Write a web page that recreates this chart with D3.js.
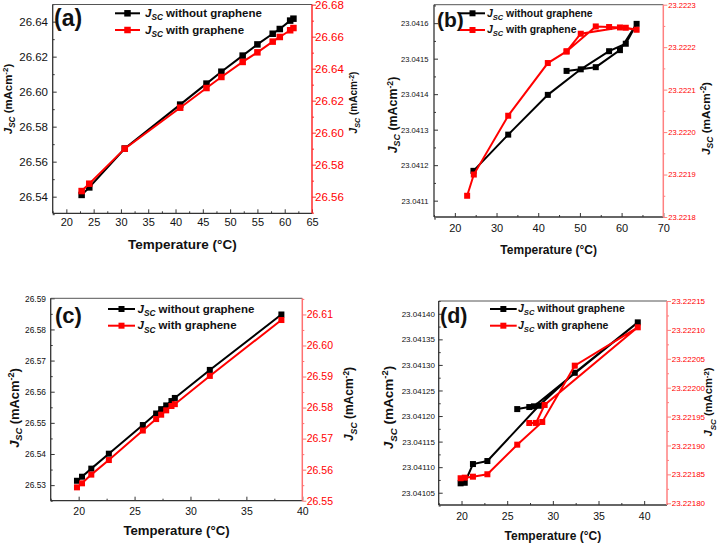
<!DOCTYPE html>
<html><head><meta charset="utf-8">
<script src="https://cdn.jsdelivr.net/npm/d3@7"></script>
<style>
body{margin:0;background:#fff}
svg{display:block}
text{font-family:Arial,"Liberation Sans",sans-serif}
</style>
</head><body>
<svg id="chart" width="717" height="543"></svg>
<script>
// ---------- DATA ----------
const seriesNames = ["without graphene", "with graphene"];

// Panel (a)
const tempA = [22.8, 24.2, 30.7, 40.85, 45.67, 48.4, 52.3, 55.0, 57.8, 59.1, 61.0, 61.6];
const jscNoGrA = [26.5410, 26.5453, 26.5675, 26.5926, 26.6046, 26.6114, 26.6206, 26.6270, 26.6331, 26.6358, 26.6406, 26.6417];
const jscGrA = [26.5635, 26.5681, 26.5900, 26.6156, 26.6279, 26.6348, 26.6442, 26.6502, 26.6569, 26.6598, 26.6640, 26.6654];

// Panel (b)
const tempNoGrB = [24.46, 32.8, 42.3, 50.2, 57.0, 61.0, 63.6, 59.6, 53.8, 46.8];
const jscNoGrB = [23.041184, 23.041286, 23.041398, 23.041470, 23.041521, 23.041542, 23.041598, 23.041524, 23.041476, 23.0414655];
const tempGrB = [22.95, 24.55, 32.8, 42.3, 46.8, 53.8, 57.0, 61.0, 63.6, 59.6, 50.2, 46.8];
const jscGrB = [23.22185, 23.2219, 23.2220385, 23.2221626, 23.22219, 23.2222488, 23.2222474, 23.2222457, 23.222241, 23.2222464, 23.2222316, 23.22219];

// Panel (c)
const tempC = [19.85, 20.3, 21.13, 22.7, 25.74, 26.93, 27.38, 27.83, 28.3, 28.6, 31.73, 38.13];
const jscNoGrC = [26.5314, 26.5327, 26.5353, 26.5401, 26.5493, 26.5530, 26.5544, 26.5556, 26.5570, 26.5580, 26.5670, 26.5848];
const jscGrC = [26.5543, 26.5556, 26.5584, 26.5631, 26.5726, 26.5763, 26.5777, 26.5791, 26.5805, 26.5811, 26.5902, 26.6082];

// Panel (d)
const tempNoGrD = [19.9, 20.35, 21.25, 22.83, 28.47, 32.4, 39.3, 27.93, 27.42, 26.1];
const jscNoGrD = [23.0410684, 23.0410695, 23.0411061, 23.041112, 23.0412201, 23.0412846, 23.0413832, 23.041219, 23.0412176, 23.0412136];
const tempGrD = [19.9, 20.35, 21.25, 22.83, 26.1, 28.84, 32.4, 39.3, 29.1, 28.15, 27.42];
const jscGrD = [23.2218433, 23.2218443, 23.221846, 23.2218502, 23.2219014, 23.2219407, 23.2220381, 23.2221045, 23.2219701, 23.221939, 23.2219389];

// Tick values
const xTicksA = [20, 25, 30, 35, 40, 45, 50, 55, 60, 65];
const xMinorA = [17.5, 22.5, 27.5, 32.5, 37.5, 42.5, 47.5, 52.5, 57.5, 62.5];
const yLTicksA = [26.54, 26.56, 26.58, 26.60, 26.62, 26.64];
const yLMinorA = [26.53, 26.55, 26.57, 26.59, 26.61, 26.63, 26.65];
const yRTicksA = [26.56, 26.58, 26.60, 26.62, 26.64, 26.66, 26.68];
const yRMinorA = [26.55, 26.57, 26.59, 26.61, 26.63, 26.65, 26.67];

const xTicksB = [20, 30, 40, 50, 60, 70];
const xMinorB = [15, 25, 35, 45, 55, 65];
const yLTicksB = [23.0411, 23.0412, 23.0413, 23.0414, 23.0415, 23.0416];
const yLMinorB = [23.04105, 23.04115, 23.04125, 23.04135, 23.04145, 23.04155, 23.04165];
const yRTicksB = [23.2218, 23.2219, 23.2220, 23.2221, 23.2222, 23.2223];
const yRMinorB = [23.22185, 23.22195, 23.22205, 23.22215, 23.22225];

const xTicksC = [20, 25, 30, 35, 40];
const xMinorC = [17.5, 22.5, 27.5, 32.5, 37.5];
const yLTicksC = [26.53, 26.54, 26.55, 26.56, 26.57, 26.58, 26.59];
const yLMinorC = [26.525, 26.535, 26.545, 26.555, 26.565, 26.575, 26.585];
const yRTicksC = [26.55, 26.56, 26.57, 26.58, 26.59, 26.60, 26.61];
const yRMinorC = [26.555, 26.565, 26.575, 26.585, 26.595, 26.605, 26.615];

const xTicksD = [20, 25, 30, 35, 40];
const xMinorD = [17.5, 22.5, 27.5, 32.5, 37.5, 42.5];
const yLTicksD = [23.04105, 23.04110, 23.04115, 23.04120, 23.04125, 23.04130, 23.04135, 23.04140];
const yLMinorD = [23.041025, 23.041075, 23.041125, 23.041175, 23.041225, 23.041275, 23.041325, 23.041375, 23.041425];
const yRTicksD = [23.22180, 23.22185, 23.22190, 23.22195, 23.22200, 23.22205, 23.22210, 23.22215];
const yRMinorD = [23.221825, 23.221875, 23.221925, 23.221975, 23.222025, 23.222075, 23.222125];

// ---------- DRAW ----------
const svg = d3.select("#chart");
const BLACK = "#000000", RED = "#ff0000";

function zip(xs, ys) { return xs.map((t, i) => [t, ys[i]]); }

function addJsc(sel, fs) {
  sel.append("tspan").attr("font-style", "italic").text("J");
  sel.append("tspan").attr("font-style", "italic").attr("font-size", (fs * 0.72) + "px")
     .attr("dy", fs * 0.28).text("SC");
  return fs * 0.28;
}

function panel(p) {
  const g = svg.append("g");
  const x = d3.scaleLinear().domain(p.xDom).range([p.l, p.r]);
  const yL = d3.scaleLinear().domain(p.yLDom).range([p.b, p.t]);
  const yR = d3.scaleLinear().domain(p.yRDom).range([p.b, p.t]);

  const bx = g.append("g").attr("transform", `translate(0,${p.b})`);
  bx.call(d3.axisBottom(x).tickValues(p.xTicks).tickSize(-4)
      .tickPadding(p.xLabBase - p.b - 0.71 * p.xFs).tickFormat(d3.format("d")));
  const bxm = g.append("g").attr("transform", `translate(0,${p.b})`);
  bxm.call(d3.axisBottom(x).tickValues(p.xMinor).tickSize(-2).tickFormat(""));

  const lx = g.append("g").attr("transform", `translate(${p.l},0)`);
  lx.call(d3.axisLeft(yL).tickValues(p.yLTicks).tickSize(-4)
      .tickPadding(p.l - p.yLLabX).tickFormat(d3.format(p.fmtL)));
  const lxm = g.append("g").attr("transform", `translate(${p.l},0)`);
  lxm.call(d3.axisLeft(yL).tickValues(p.yLMinor).tickSize(-2).tickFormat(""));

  const rx = g.append("g").attr("transform", `translate(${p.r},0)`);
  rx.call(d3.axisRight(yR).tickValues(p.yRTicks).tickSize(4)
      .tickPadding(p.yRLabX - p.r - 4).tickFormat(d3.format(p.fmtR)));
  const rxm = g.append("g").attr("transform", `translate(${p.r},0)`);
  rxm.call(d3.axisRight(yR).tickValues(p.yRMinor).tickSize(2).tickFormat(""));

  [bx, bxm, lx, lxm, rx, rxm].forEach(a => a.select(".domain").remove());
  [bx, bxm, lx, lxm].forEach(a => a.selectAll("line").attr("stroke", "#333").attr("stroke-width", 1));
  [rx, rxm].forEach(a => a.selectAll("line").attr("stroke", p.rAxisCol).attr("stroke-width", 1));
  bx.selectAll("text").attr("font-size", p.xFs + "px").attr("fill", "#111");
  lx.selectAll("text").attr("font-size", p.yLFs + "px").attr("fill", "#111");
  rx.selectAll("text").attr("font-size", p.yRFs + "px").attr("fill", RED);

  g.append("line").attr("x1", p.l).attr("x2", p.r).attr("y1", p.b).attr("y2", p.b)
    .attr("stroke", "#333").attr("stroke-width", 1.3);
  g.append("line").attr("x1", p.l).attr("x2", p.r).attr("y1", p.t).attr("y2", p.t)
    .attr("stroke", "#555").attr("stroke-width", 1);
  g.append("line").attr("x1", p.l).attr("x2", p.l).attr("y1", p.t).attr("y2", p.b)
    .attr("stroke", "#333").attr("stroke-width", 1.3);
  g.append("line").attr("x1", p.r).attr("x2", p.r).attr("y1", p.t).attr("y2", p.b)
    .attr("stroke", p.rAxisCol).attr("stroke-width", 1.5);

  const lineL = d3.line().x(d => x(d[0])).y(d => yL(d[1]));
  const lineR = d3.line().x(d => x(d[0])).y(d => yR(d[1]));
  const dB = zip(p.tB, p.vB), dR = zip(p.tR, p.vR);
  const ms = p.ms;
  g.append("path").attr("d", lineL(dB)).attr("fill", "none").attr("stroke", BLACK).attr("stroke-width", 2);
  g.selectAll(null).data(dB).join("rect")
    .attr("x", d => x(d[0]) - ms / 2).attr("y", d => yL(d[1]) - ms / 2)
    .attr("width", ms).attr("height", ms).attr("fill", BLACK);
  g.append("path").attr("d", lineR(dR)).attr("fill", "none").attr("stroke", RED).attr("stroke-width", 2);
  g.selectAll(null).data(dR).join("rect")
    .attr("x", d => x(d[0]) - ms / 2).attr("y", d => yR(d[1]) - ms / 2)
    .attr("width", ms).attr("height", ms).attr("fill", RED);

  g.append("text").attr("x", (p.l + p.r) / 2).attr("y", p.xTitleBase)
    .attr("text-anchor", "middle").attr("font-weight", "bold").attr("font-size", p.xTitleFs + "px")
    .attr("fill", "#111").text("Temperature (°C)");

  function yTitle(cx, cy, fs) {
    const t = g.append("text")
      .attr("transform", `translate(${cx},${cy}) rotate(-90)`)
      .attr("text-anchor", "middle").attr("dy", fs * 0.35)
      .attr("font-weight", "bold").attr("font-size", fs + "px").attr("fill", "#111");
    const sh = addJsc(t, fs);
    t.append("tspan").attr("dy", -sh).text(" (mAcm");
    t.append("tspan").attr("font-size", (fs * 0.7) + "px").attr("dy", -fs * 0.35).text("-2");
    t.append("tspan").attr("dy", fs * 0.35).text(")");
  }
  yTitle(p.yLTitle[0], p.yLTitle[1], p.yLTitle[2]);
  yTitle(p.yRTitle[0], p.yRTitle[1], p.yRTitle[2]);

  g.append("text").attr("x", p.lab[0]).attr("y", p.lab[1]).attr("font-weight", "bold")
    .attr("font-size", p.lab[2] + "px").attr("fill", "#111").text(p.label);

  const lg = p.leg;
  [[BLACK, seriesNames[0], lg.y1], [RED, seriesNames[1], lg.y2]].forEach(([col, name, yy]) => {
    g.append("line").attr("x1", lg.x1).attr("x2", lg.x2).attr("y1", yy).attr("y2", yy)
      .attr("stroke", col).attr("stroke-width", 2);
    g.append("rect").attr("x", (lg.x1 + lg.x2) / 2 - ms / 2).attr("y", yy - ms / 2)
      .attr("width", ms).attr("height", ms).attr("fill", col);
    const t = g.append("text").attr("x", lg.tx).attr("y", yy + lg.fs * 0.33)
      .attr("font-weight", "bold").attr("font-size", lg.fs + "px").attr("fill", "#111");
    const sh = addJsc(t, lg.fs);
    t.append("tspan").attr("dy", -sh).text(" " + name);
  });
}

panel({
  label: "(a)", lab: [54, 25.5, 23],
  l: 52.7, r: 312, t: 4.5, b: 213.3,
  xDom: [17.5, 65], yLDom: [26.5305, 26.6498], yRDom: [26.5496, 26.6801],
  xTicks: xTicksA, xMinor: xMinorA, yLTicks: yLTicksA, yLMinor: yLMinorA, yRTicks: yRTicksA, yRMinor: yRMinorA,
  fmtL: ".2f", fmtR: ".2f", xFs: 11, yLFs: 11.5, yRFs: 11.5,
  xLabBase: 226, yLLabX: 48, yRLabX: 315,
  xTitleBase: 249, xTitleFs: 13.5,
  yLTitle: [7.5, 99, 11.4], yRTitle: [353.5, 102.5, 10],
  rAxisCol: "#ff2a2a",
  tB: tempA, vB: jscNoGrA, tR: tempA, vR: jscGrA, ms: 6.5,
  leg: { x1: 115, x2: 140, tx: 145, y1: 13.3, y2: 30, fs: 11.5 }
});

panel({
  label: "(b)", lab: [437, 27, 21],
  l: 434, r: 663.3, t: 4.7, b: 217,
  xDom: [15, 70], yLDom: [23.041054, 23.041652], yRDom: [23.2218, 23.2223],
  xTicks: xTicksB, xMinor: xMinorB, yLTicks: yLTicksB, yLMinor: yLMinorB, yRTicks: yRTicksB, yRMinor: yRMinorB,
  fmtL: ".4f", fmtR: ".4f", xFs: 11, yLFs: 7.6, yRFs: 7.6,
  xLabBase: 231.5, yLLabX: 428.5, yRLabX: 668.3,
  xTitleBase: 254, xTitleFs: 12,
  yLTitle: [392.5, 115, 12.4], yRTitle: [706, 118.5, 11.8],
  rAxisCol: "#ff8080",
  tB: tempNoGrB, vB: jscNoGrB, tR: tempGrB, vR: jscGrB, ms: 6,
  leg: { x1: 460, x2: 485, tx: 487, y1: 13.3, y2: 30, fs: 10.4 }
});

panel({
  label: "(c)", lab: [55, 322.5, 22],
  l: 50.7, r: 302.3, t: 298.3, b: 500.7,
  xDom: [17.5, 40], yLDom: [26.525, 26.59], yRDom: [26.55, 26.6152],
  xTicks: xTicksC, xMinor: xMinorC, yLTicks: yLTicksC, yLMinor: yLMinorC, yRTicks: yRTicksC, yRMinor: yRMinorC,
  fmtL: ".2f", fmtR: ".2f", xFs: 10.5, yLFs: 8.4, yRFs: 10.5,
  xLabBase: 515, yLLabX: 46, yRLabX: 306.7,
  xTitleBase: 535, xTitleFs: 13.2,
  yLTitle: [14, 408, 12.9], yRTitle: [349, 404, 12],
  rAxisCol: "#ff7070",
  tB: tempC, vB: jscNoGrC, tR: tempC, vR: jscGrC, ms: 6,
  leg: { x1: 108, x2: 135, tx: 137.5, y1: 309, y2: 325.7, fs: 11.5 }
});

panel({
  label: "(d)", lab: [440, 322.5, 21.5],
  l: 438.7, r: 667, t: 301, b: 505,
  xDom: [17.5, 42.5], yLDom: [23.041026, 23.041425], yRDom: [23.221797, 23.22215],
  xTicks: xTicksD, xMinor: xMinorD, yLTicks: yLTicksD, yLMinor: yLMinorD, yRTicks: yRTicksD, yRMinor: yRMinorD,
  fmtL: ".5f", fmtR: ".5f", xFs: 10.5, yLFs: 8, yRFs: 8,
  xLabBase: 520, yLLabX: 435, yRLabX: 671.7,
  xTitleBase: 540, xTitleFs: 12,
  yLTitle: [388, 407.5, 13.5], yRTitle: [708.5, 402, 11.2],
  rAxisCol: "#ff8080",
  tB: tempNoGrD, vB: jscNoGrD, tR: tempGrD, vR: jscGrD, ms: 6,
  leg: { x1: 490, x2: 516.7, tx: 518, y1: 309, y2: 325.7, fs: 10.5 }
});
</script>
</body></html>
